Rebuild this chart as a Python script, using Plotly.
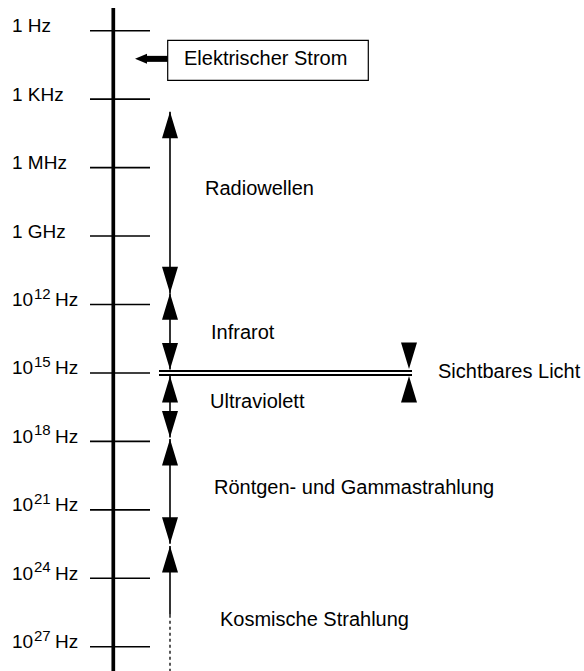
import plotly.graph_objects as go

# ---- data (log10 of frequency in Hz) ----
tick_exponents = [0, 3, 6, 9, 12, 15, 18, 21, 24, 27]
tick_prefix = ["1", "1", "1", "1", "10", "10", "10", "10", "10", "10"]
tick_power = ["", "", "", "", "12", "15", "18", "21", "24", "27"]
tick_unit = ["Hz", "KHz", "MHz", "GHz", "Hz", "Hz", "Hz", "Hz", "Hz", "Hz"]

band_names = ["Radiowellen", "Infrarot", "Ultraviolett",
              "Röntgen- und Gammastrahlung", "Kosmische Strahlung"]
band_top = [3.55, 11.51, 15.13, 17.89, 22.58]
band_bottom = [11.51, 14.85, 17.83, 22.49, 25.6]
band_head_bottom = [True, True, True, True, False]
band_label_exp = [6.91, 13.2, 16.22, 20.0, 25.78]

visible_name = "Sichtbares Licht"
visible_exp = 15.0
current_name = "Elektrischer Strom"
current_exp = 1.3

# ---- layout constants ----
W, H = 584, 671
PX = 22.817          # pixels per decade
Y0 = 30.7            # pixel of 10^0
def d(px):
    return px / PX

y_top = -Y0 / PX
y_bot = (H - Y0) / PX

FAMILY = "Liberation Sans, Arial, sans-serif"
FONT = dict(family=FAMILY, size=20, color="black")
TFONT = dict(family=FAMILY, size=19, color="black")
SFONT = dict(family=FAMILY, size=15, color="black")
AX_X = 113.3
TICK_X0, TICK_X1 = 90, 150
ARR_X = 170
HEAD_L = d(26.5)
HEAD_HW = 8

fig = go.Figure()
shapes = []
annotations = []

# main axis
shapes.append(dict(type="line", xref="x", yref="y", x0=AX_X, x1=AX_X,
                   y0=y_top + d(8), y1=y_bot, line=dict(color="black", width=3.7)))
# ticks and labels
for e, pre, pw, unit in zip(tick_exponents, tick_prefix, tick_power, tick_unit):
    shapes.append(dict(type="line", xref="x", yref="y", x0=TICK_X0, x1=TICK_X1,
                       y0=e, y1=e, line=dict(color="black", width=1.6)))
    if pw:
        annotations.append(dict(x=10, y=e, xref="x", yref="y", text=pre, showarrow=False,
                                xanchor="left", yanchor="middle", yshift=5, font=TFONT))
        annotations.append(dict(x=31.5, y=e, xref="x", yref="y", text=pw, showarrow=False,
                                xanchor="left", yanchor="middle", yshift=11.5, font=SFONT))
        annotations.append(dict(x=53, y=e, xref="x", yref="y", text=unit, showarrow=False,
                                xanchor="left", yanchor="middle", yshift=5, font=TFONT))
    else:
        annotations.append(dict(x=10, y=e, xref="x", yref="y", text=pre + " " + unit,
                                showarrow=False, xanchor="left", yanchor="middle",
                                yshift=5, font=TFONT))

# band arrows
tx, ty = [], []
def tri(x, tip, up):
    base = tip + HEAD_L if up else tip - HEAD_L
    tx.extend([x, x - HEAD_HW, x + HEAD_HW, x, None])
    ty.extend([tip, base, base, tip, None])

for top, bot, hb in zip(band_top, band_bottom, band_head_bottom):
    shapes.append(dict(type="line", xref="x", yref="y", x0=ARR_X, x1=ARR_X,
                       y0=top, y1=bot, line=dict(color="black", width=1.6)))
    tri(ARR_X, top, True)
    if hb:
        tri(ARR_X, bot, False)
    else:
        shapes.append(dict(type="line", xref="x", yref="y", x0=ARR_X, x1=ARR_X,
                           y0=bot, y1=y_bot, line=dict(color="black", width=1.3, dash="dot")))

for name, e, x in zip(band_names, band_label_exp, [203, 209, 208, 212, 218]):
    annotations.append(dict(x=x, y=e, xref="x", yref="y", text=name, showarrow=False,
                            xanchor="left", yanchor="middle", font=FONT))

# visible light double line
shapes.append(dict(type="line", xref="x", yref="y", x0=159, x1=412,
                   y0=visible_exp, y1=visible_exp, line=dict(color="black", width=6)))
shapes.append(dict(type="line", xref="x", yref="y", x0=158, x1=413,
                   y0=visible_exp, y1=visible_exp, line=dict(color="white", width=2)))
tri(409, visible_exp - d(4), False)
tri(409, visible_exp + d(3), True)
annotations.append(dict(x=436, y=visible_exp, xref="x", yref="y", text=visible_name,
                        showarrow=False, xanchor="left", yanchor="middle", yshift=2, font=FONT))

# electric current box and arrow
shapes.append(dict(type="rect", xref="x", yref="y", x0=167.7, x1=368.3,
                   y0=current_exp - d(20), y1=current_exp + d(20),
                   line=dict(color="black", width=1.2), fillcolor="white"))
shapes.append(dict(type="line", xref="x", yref="y", x0=144, x1=167.7,
                   y0=current_exp - d(1.5), y1=current_exp - d(1.5),
                   line=dict(color="black", width=6)))
tx.extend([135, 147, 147, 135, None])
ty.extend([current_exp - d(1.5), current_exp - d(6.5), current_exp + d(3.5),
           current_exp - d(1.5), None])
annotations.append(dict(x=265, y=current_exp, xref="x", yref="y", text=current_name,
                        showarrow=False, xanchor="center", yanchor="middle", yshift=2, font=FONT))

fig.add_trace(go.Scatter(x=tx, y=ty, mode="lines", fill="toself", fillcolor="black",
                         line=dict(color="black", width=0), hoverinfo="skip", showlegend=False))

fig.update_layout(width=W, height=H, margin=dict(l=0, r=0, t=0, b=0),
                  paper_bgcolor="white", plot_bgcolor="white",
                  xaxis=dict(range=[0, W], visible=False, fixedrange=True),
                  yaxis=dict(range=[y_bot, y_top], visible=False, fixedrange=True),
                  shapes=shapes, annotations=annotations, showlegend=False)

fig.write_html("out.html", config={"displayModeBar": False},
               post_script="document.body.style.margin='0px';document.body.style.overflow='hidden';")
